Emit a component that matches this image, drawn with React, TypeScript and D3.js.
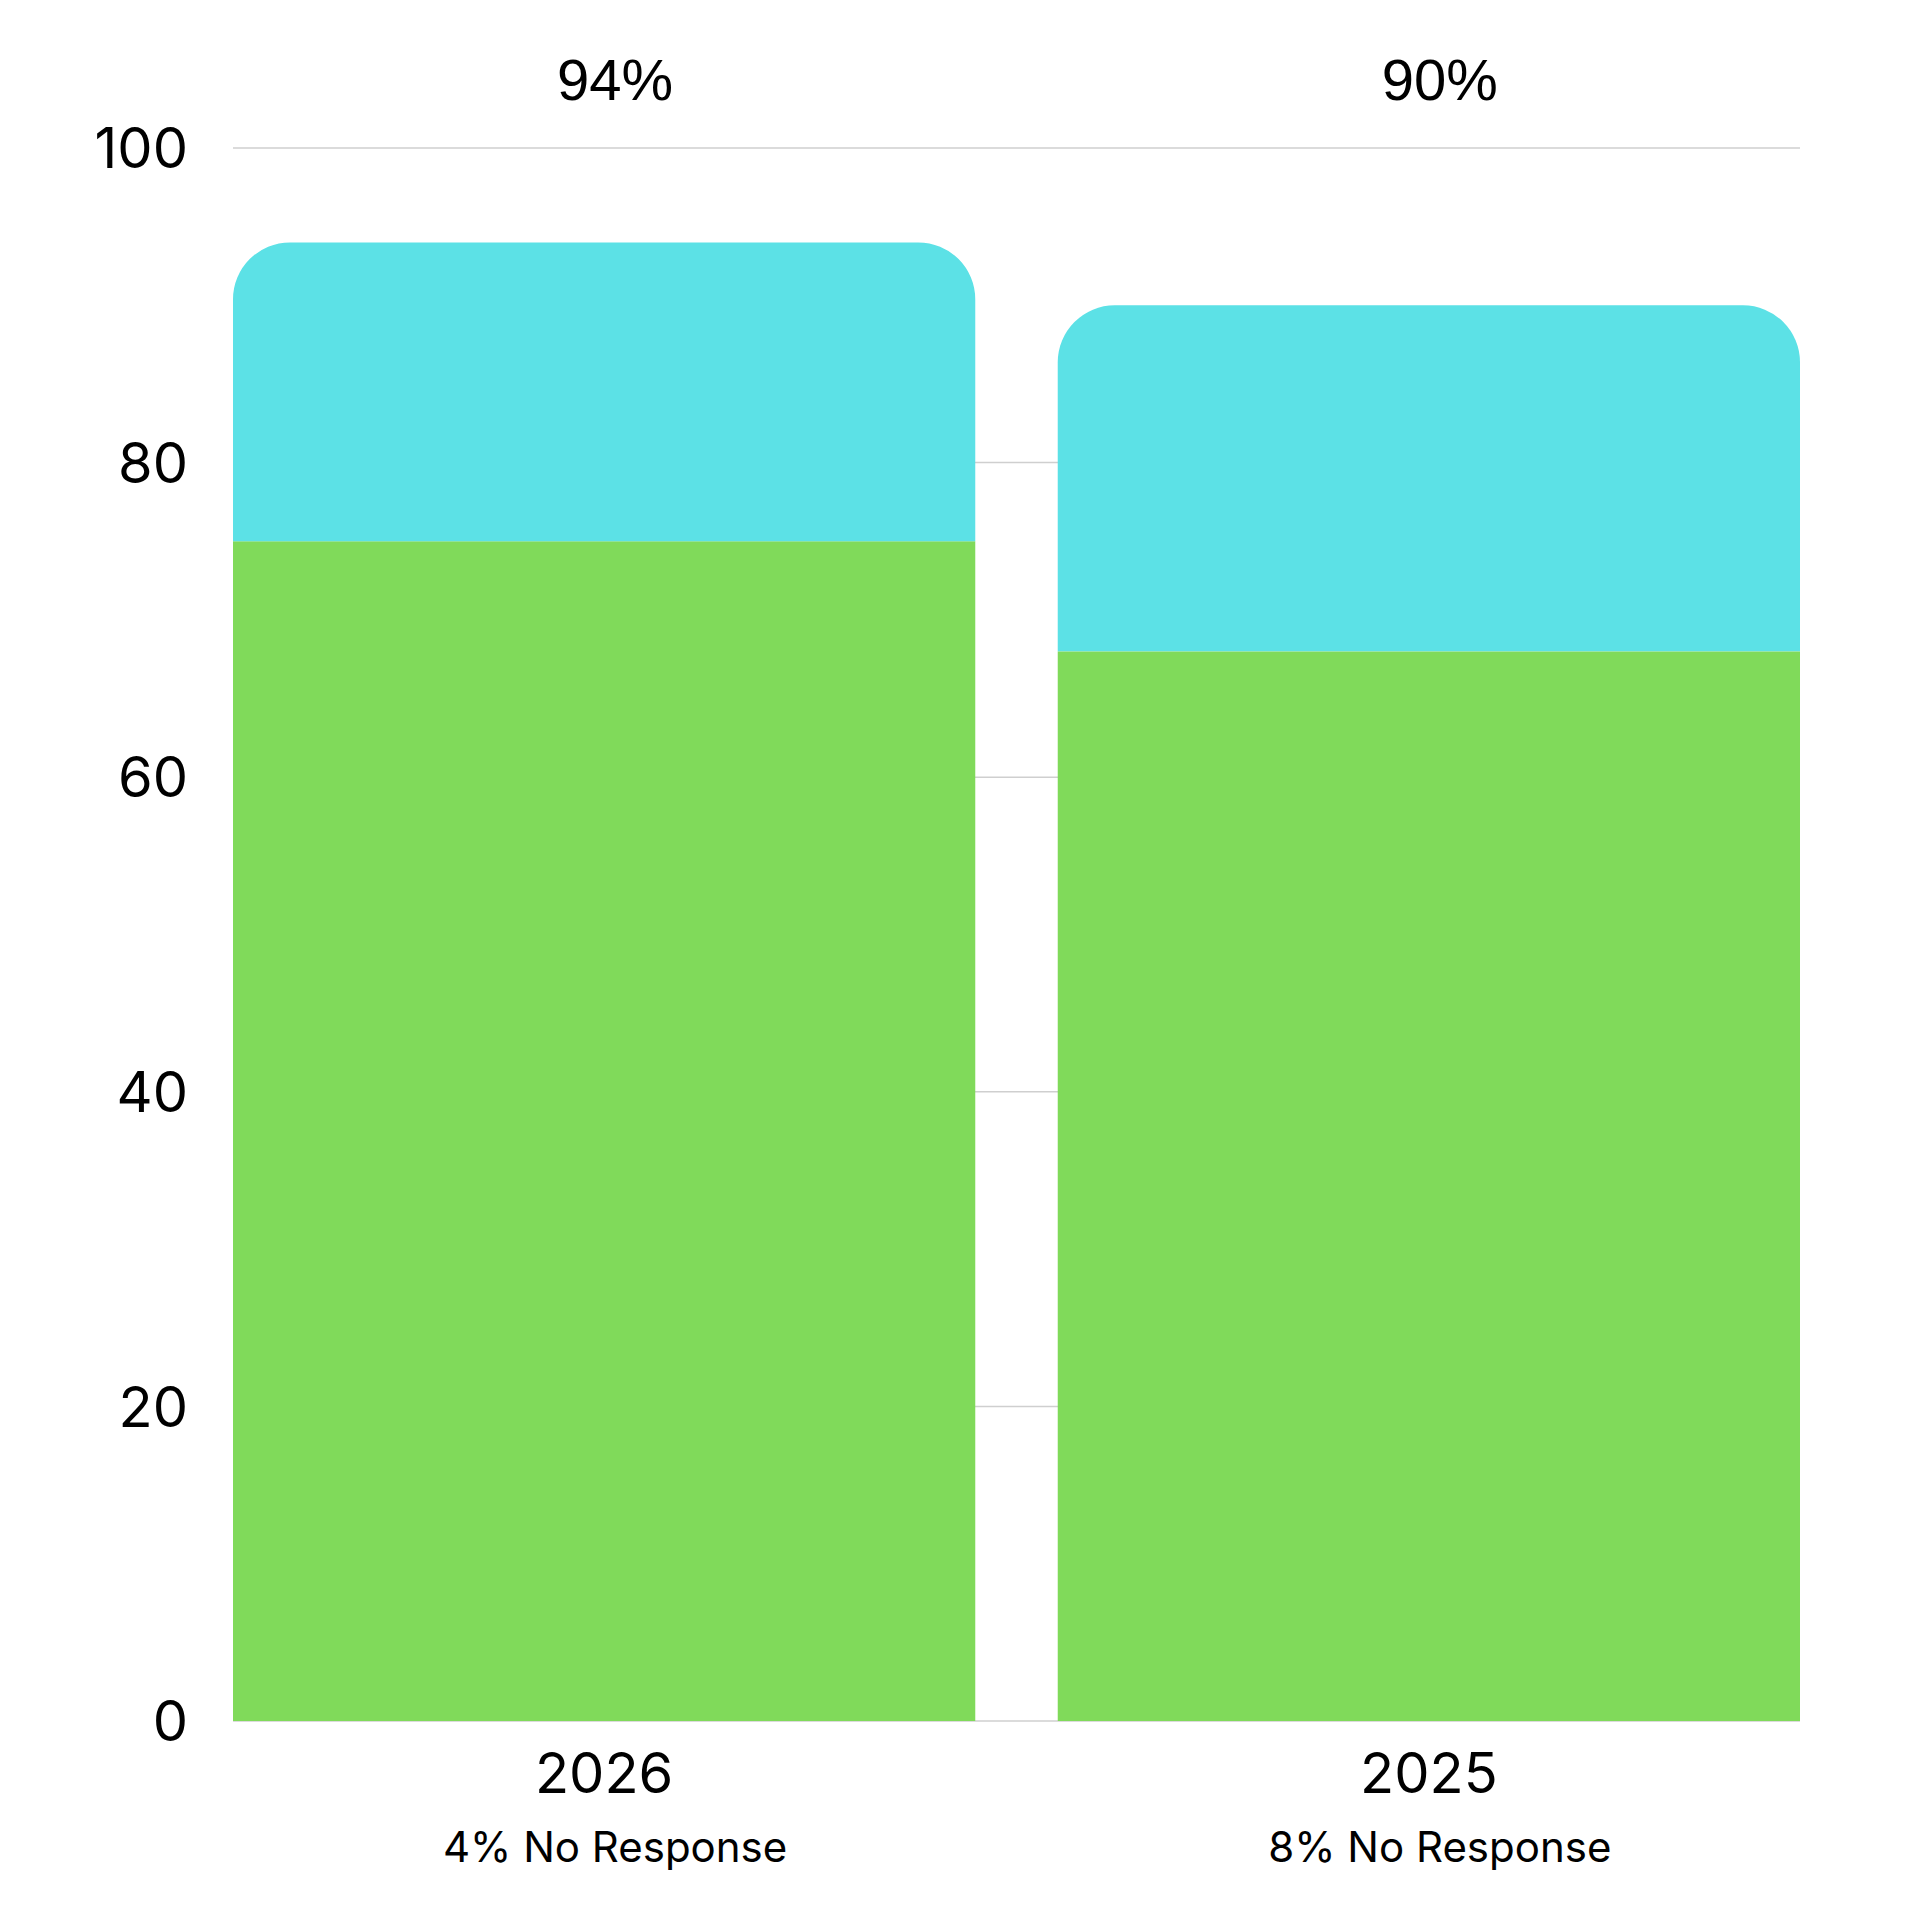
import React, { useEffect, useRef } from "react";
import * as d3 from "d3";

const years = ["2026", "2025"];
const positive = [75, 68];
const neutral = [19, 22];
const totalLabels = ["94%", "90%"];
const noResponse = ["4% No Response", "8% No Response"];
const yTicks = [0, 20, 40, 60, 80, 100];

const WIDTH = 1920;
const HEIGHT = 1920;
const margin = { top: 148, right: 120, bottom: 199, left: 233 };

const GREEN = "#80DA5A";
const CYAN = "#5CE1E6";
const FONT = "Inter, 'Noto Sans', sans-serif";

// rect with only the top corners rounded
function topRounded(x: number, y: number, w: number, h: number, r: number) {
  const rr = Math.min(r, w / 2, h);
  return `M${x},${y + h}V${y + rr}A${rr},${rr} 0 0 1 ${x + rr},${y}H${x + w - rr}A${rr},${rr} 0 0 1 ${x + w},${y + rr}V${y + h}Z`;
}

export default function App() {
  const ref = useRef<SVGSVGElement>(null);

  useEffect(() => {
    document.body.style.margin = "0";
    if (!ref.current) return;
    const svg = d3.select(ref.current);
    svg.selectAll("*").remove();

    const innerW = WIDTH - margin.left - margin.right;
    const innerH = HEIGHT - margin.top - margin.bottom;

    const x = d3
      .scaleBand<string>()
      .domain(years)
      .range([0, innerW])
      .paddingInner(0.1)
      .paddingOuter(0);

    const y = d3.scaleLinear().domain([0, 100]).range([innerH, 0]);

    const g = svg
      .append("g")
      .attr("transform", `translate(${margin.left},${margin.top})`);

    // grid lines
    g.selectAll("line.grid")
      .data(yTicks)
      .join("line")
      .attr("class", "grid")
      .attr("x1", 0)
      .attr("x2", innerW)
      .attr("y1", (d) => y(d))
      .attr("y2", (d) => y(d))
      .attr("stroke", "#cfcfcf")
      .attr("stroke-width", 1.5);

    // y tick labels
    g.selectAll("text.ytick")
      .data(yTicks)
      .join("text")
      .attr("class", "ytick")
      .attr("x", -45)
      .attr("y", (d) => y(d))
      .attr("dy", "0.36em")
      .attr("text-anchor", "end")
      .attr("font-family", FONT)
      .attr("font-size", 56)
      .attr("fill", "#000")
      .text((d) => d);

    const bw = x.bandwidth();

    // bottom segment
    g.selectAll("rect.pos")
      .data(years)
      .join("rect")
      .attr("class", "pos")
      .attr("x", (d) => x(d)!)
      .attr("y", (d, i) => y(positive[i]))
      .attr("width", bw)
      .attr("height", (d, i) => y(0) - y(positive[i]))
      .attr("fill", GREEN);

    // top segment, rounded
    g.selectAll("path.neu")
      .data(years)
      .join("path")
      .attr("class", "neu")
      .attr("d", (d, i) => {
        const top = y(positive[i] + neutral[i]);
        const bottom = y(positive[i]);
        return topRounded(x(d)!, top, bw, bottom - top, 57);
      })
      .attr("fill", CYAN);

    // totals above
    g.selectAll("text.total")
      .data(years)
      .join("text")
      .attr("class", "total")
      .attr("x", (d) => x(d)! + bw / 2)
      .attr("dx", 11)
      .attr("y", -48)
      .attr("text-anchor", "middle")
      .attr("font-family", "'Liberation Sans', Arial, sans-serif")
      .attr("font-size", 58)
      .attr("fill", "#000")
      .text((d, i) => totalLabels[i]);

    // x labels
    g.selectAll("text.xlabel")
      .data(years)
      .join("text")
      .attr("class", "xlabel")
      .attr("x", (d) => x(d)! + bw / 2)
      .attr("y", innerH + 72)
      .attr("text-anchor", "middle")
      .attr("font-family", FONT)
      .attr("font-size", 56)
      .attr("fill", "#000")
      .text((d) => d);

    g.selectAll("text.sub")
      .data(years)
      .join("text")
      .attr("class", "sub")
      .attr("x", (d) => x(d)! + bw / 2)
      .attr("dx", 11)
      .attr("y", innerH + 141)
      .attr("text-anchor", "middle")
      .attr("font-family", FONT)
      .attr("font-size", 42)
      .attr("fill", "#000")
      .text((d, i) => noResponse[i]);
  }, []);

  return (
    <svg
      ref={ref}
      width={WIDTH}
      height={HEIGHT}
      viewBox={`0 0 ${WIDTH} ${HEIGHT}`}
      style={{ display: "block", background: "#fff" }}
    />
  );
}
